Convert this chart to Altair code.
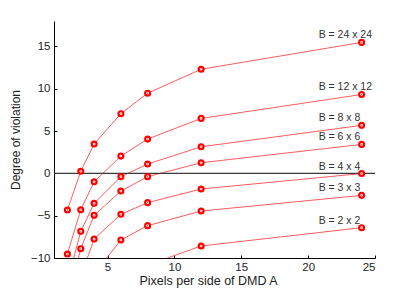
import altair as alt
import pandas as pd

xs = [2, 3, 4, 6, 8, 12, 24]
labels = ["B = 24 x 24", "B = 12 x 12", "B = 8 x 8", "B = 6 x 6", "B = 4 x 4", "B = 3 x 3", "B = 2 x 2"]
s24 = [-4.33, 0.25, 3.46, 7.05, 9.47, 12.3, 15.47]
s12 = [-9.53, -4.3, -1.0, 2.04, 4.05, 6.49, 9.32]
s8 = [-12.8, -6.85, -3.54, -0.39, 1.1, 3.14, 5.67]
s6 = [-15.0, -8.9, -4.96, -2.09, -0.39, 1.25, 3.42]
s4 = [None, -12.2, -7.76, -4.84, -3.46, -1.85, -0.02]
s3 = [None, None, -11.9, -7.87, -6.18, -4.45, -2.6]
s2 = [None, None, None, None, -10.85, -8.58, -6.42]
series = [s24, s12, s8, s6, s4, s3, s2]
x_ticks = [5, 10, 15, 20, 25]
y_ticks = [-10, -5, 0, 5, 10, 15]

rows = []
for lab, vals in zip(labels, series):
    for x, v in zip(xs, vals):
        if v is not None:
            rows.append({"series": lab, "x": x, "y": v})
df = pd.DataFrame(rows)
end = df[df["x"] == 24]
zero = pd.DataFrame({"y": [0]})

W, H = 321, 237
FONT = "Liberation Sans"
xs_scale = alt.Scale(domain=[1, 25], nice=False, zero=False)
ys_scale = alt.Scale(domain=[-10, 18], nice=False, zero=False)

xax = alt.Axis(values=x_ticks, ticks=False, grid=False, labelPadding=3,
               title="Pixels per side of DMD A", titleFontWeight="normal",
               titleX=154, titleY=26.5, titleBaseline="alphabetic", titleFontSize=12.5)
yax = alt.Axis(values=y_ticks, ticks=False, grid=False, labelPadding=4,
               title="Degree of violation", titlePadding=8, titleFontWeight="normal")

X = alt.X("x:Q", scale=xs_scale, axis=xax)
Y = alt.Y("y:Q", scale=ys_scale, axis=yax)

lines = alt.Chart(df).mark_line(color="#ff4a4a", strokeWidth=0.9, clip=True).encode(
    x=X, y=Y, detail="series:N", order="x:Q")
rule = alt.Chart(zero).mark_rule(color="#3a3a3a", strokeWidth=1.2).encode(
    y=alt.Y("y:Q", scale=ys_scale, axis=yax))
pts = alt.Chart(df).mark_point(shape="circle", size=24, filled=False, fill="white", fillOpacity=1,
                               stroke="#ff0000", strokeWidth=2.2, clip=True).encode(x=X, y=Y)
dots = alt.Chart(df).mark_point(shape="circle", size=2, filled=True, color="#ff6060", opacity=1,
                                clip=True).encode(x=X, y=Y)
txt = alt.Chart(end).mark_text(align="left", baseline="alphabetic", dx=-43, dy=-4,
                               fontSize=10.5, font=FONT, color="#333333").encode(
    x=X, y=Y, text="series:N")

main = alt.layer(lines, rule, pts, dots, txt)

tick_layer = alt.Chart(zero).mark_rule(opacity=0).encode(
    y=alt.Y("y:Q", scale=ys_scale,
            axis=alt.Axis(orient="right", offset=-W, values=y_ticks, labels=False, domain=False,
                          grid=False, ticks=True, tickSize=3, tickColor="black", title=None)),
    x=alt.X("y:Q", scale=xs_scale,
            axis=alt.Axis(orient="top", offset=-H, values=x_ticks, labels=False, domain=False,
                          grid=False, ticks=True, tickSize=3, tickColor="black", title=None)),
)

chart = alt.layer(main, tick_layer).resolve_axis(x="independent", y="independent").properties(
    width=W, height=H, padding={"left": 46, "top": 13, "right": 32, "bottom": 32},
    autosize=alt.AutoSizeParams(type="none"),
).configure_view(stroke=None).configure_axis(
    domainColor="black", labelFont=FONT, titleFont=FONT, labelFontSize=11.5, titleFontSize=12,
    labelColor="#222222", titleColor="#222222",
)

chart.save("out.html", embed_options={"renderer": "svg", "actions": False})
